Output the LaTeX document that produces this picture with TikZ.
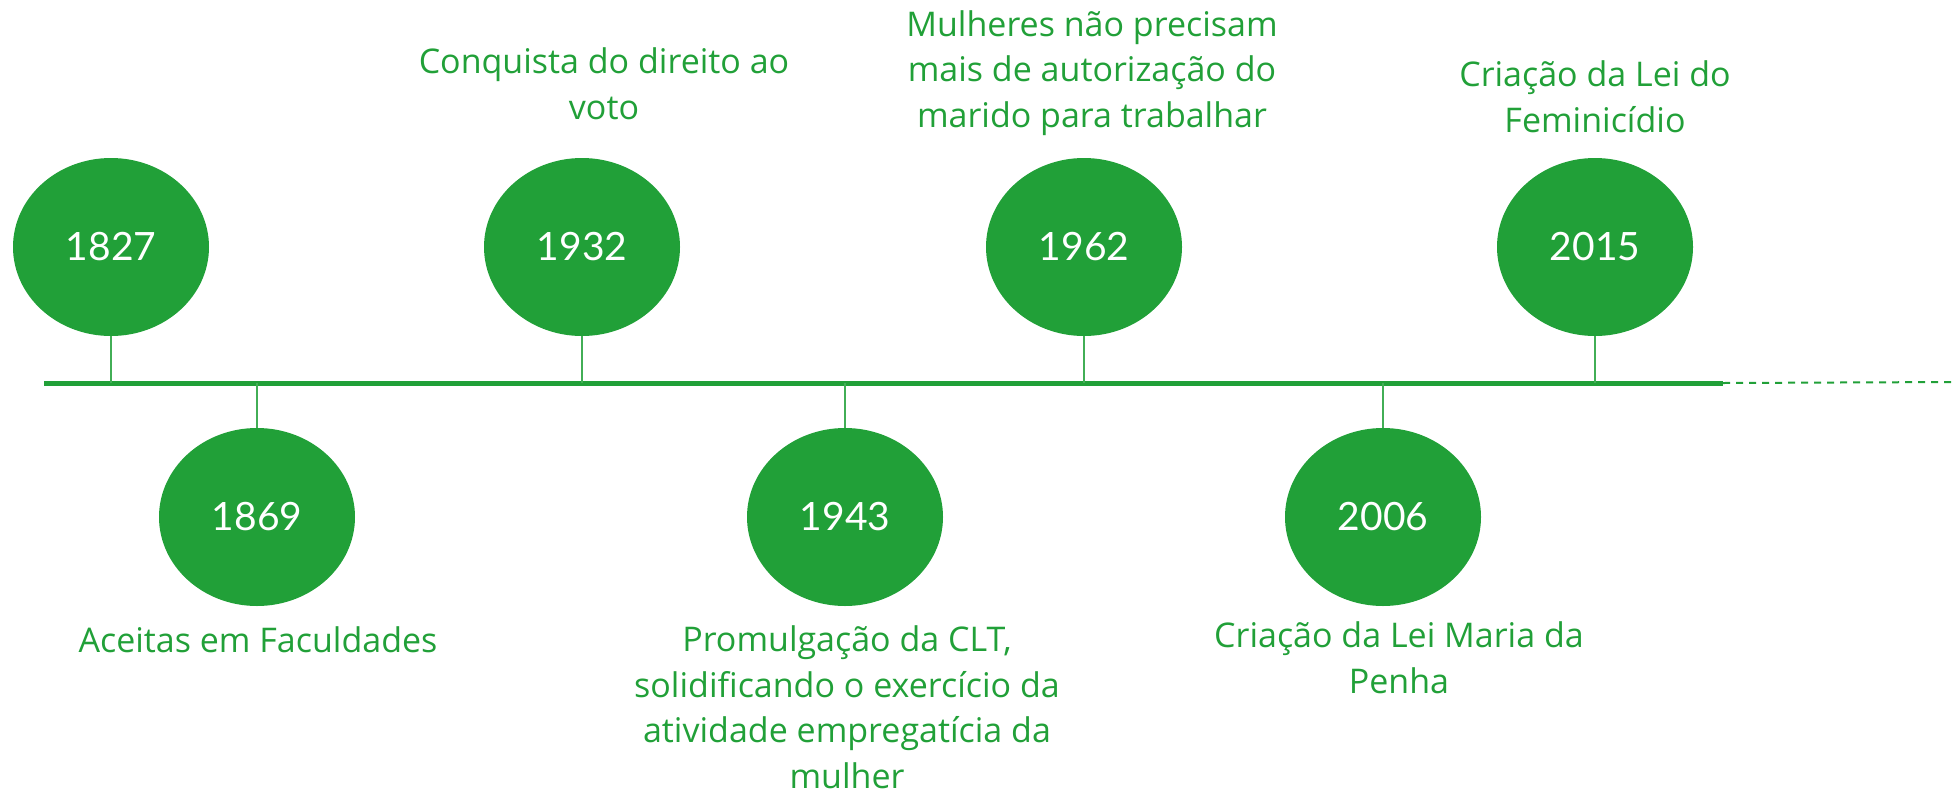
\documentclass[tikz,border=0pt]{standalone}
\usepackage{fontspec}
\setmainfont{Lato}
\newfontfamily\rotulofonte{Open Sans}
\usetikzlibrary{shapes.geometric}
\definecolor{verde}{RGB}{33,160,56}

\begin{document}
\begin{tikzpicture}[x=1pt,y=-1pt,
    ano/.style={ellipse,fill=verde,minimum width=196pt,minimum height=178pt,inner sep=0pt,
        text=white,font=\fontsize{39}{39}\selectfont},
    rotulo/.style={anchor=base,align=center,text=verde,inner sep=0pt,
        font=\rotulofonte\fontsize{34}{45.5}\selectfont},
    haste/.style={draw=verde!85,line width=1.5pt}]
    \useasboundingbox (0,0) rectangle (1954,793);
    % linha do tempo
    \coordinate (ini) at (44,383);
    \coordinate (fim) at (1723,383);
    \coordinate (aberto) at (1954,382);
    \draw[verde,line width=5pt] (ini) -- (fim);
    \draw[verde,line width=2pt,dash pattern=on 7pt off 6pt] (fim) -- (aberto);
    % anos
    \node[ano] (a1827) at (111,247) {1827};
    \node[ano] (a1869) at (257,517) {1869};
    \node[ano] (a1932) at (582,247) {1932};
    \node[ano] (a1943) at (845,517) {1943};
    \node[ano] (a1962) at (1084,247) {1962};
    \node[ano] (a2006) at (1383,517) {2006};
    \node[ano] (a2015) at (1595,247) {2015};
    % hastes
    \foreach \a/\x in {1827/111,1869/257,1932/582,1943/845,1962/1084,2006/1383,2015/1595}{
        \coordinate (p\a) at (\x,383);
        \draw[haste] (a\a) -- (p\a);
    }
    % textos (ancorados na ultima linha)
    \node[rotulo] (t1932) at (604,119) {Conquista do direito ao\\voto};
    \node[rotulo] (t1962) at (1092,127) {Mulheres não precisam\\mais de autorização do\\marido para trabalhar};
    \node[rotulo] (t2015) at (1595,132) {Criação da Lei do\\Feminicídio};
    \node[rotulo] (t1869) at (258,652) {Aceitas em Faculdades};
    \node[rotulo] (t1943) at (847,788) {Promulgação da CLT,\\solidificando o exercício da\\atividade empregatícia da\\mulher};
    \node[rotulo] (t2006) at (1399,693) {Criação da Lei Maria da\\Penha};
\end{tikzpicture}
\end{document}
